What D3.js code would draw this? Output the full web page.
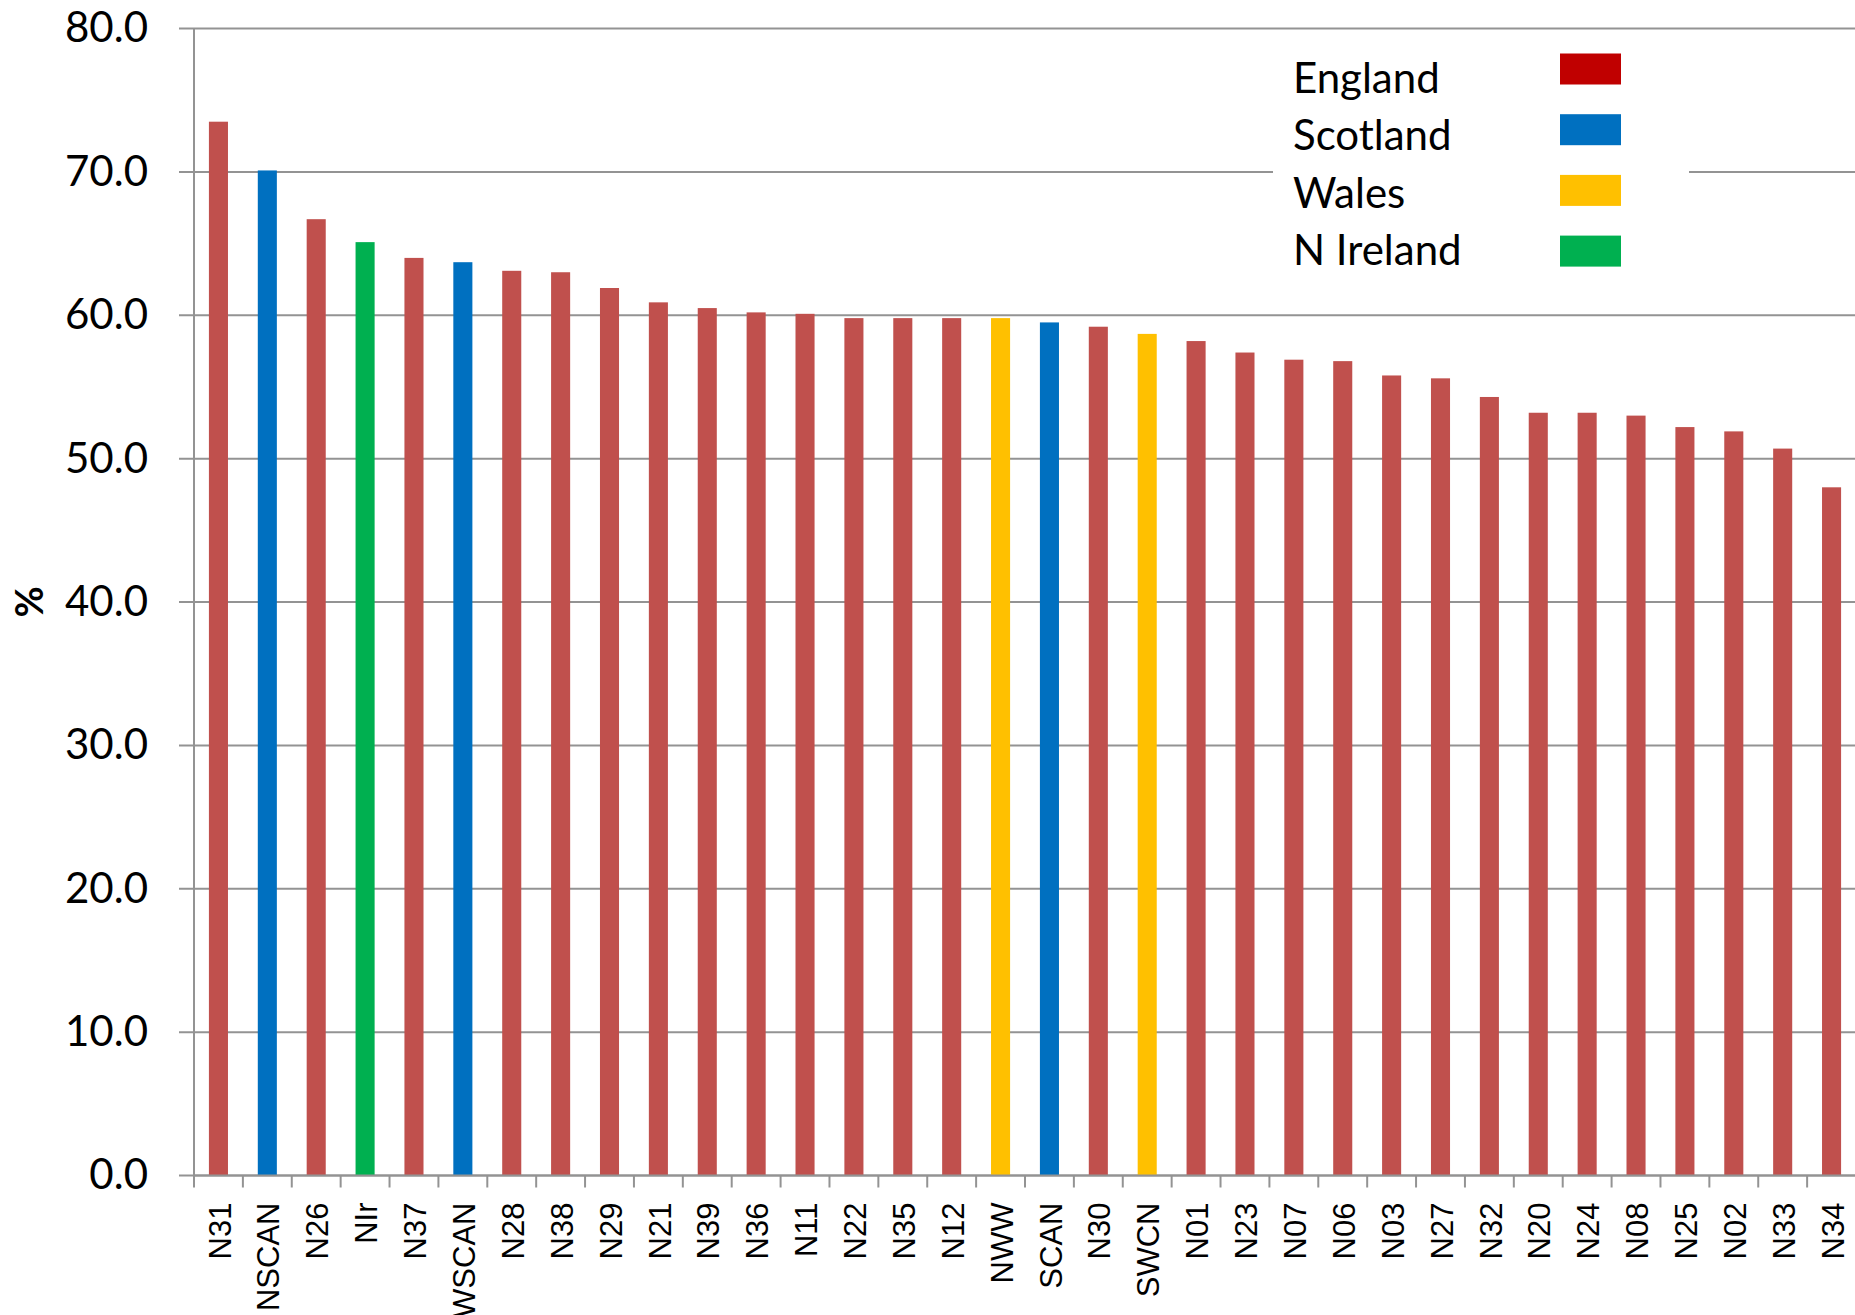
<!DOCTYPE html>
<html>
<head>
<meta charset="utf-8">
<script src="https://cdn.jsdelivr.net/npm/d3@7"></script>
<style>
  body { margin: 0; background: #fff; }
  .grid line, .domain { stroke: #939393; stroke-width: 2; }
</style>
</head>
<body>
<div id="chart"></div>
<script>
// data
const networks = ["N31", "NSCAN", "N26", "NIr", "N37", "WSCAN", "N28", "N38", "N29", "N21",
  "N39", "N36", "N11", "N22", "N35", "N12", "NWW", "SCAN", "N30", "SWCN",
  "N01", "N23", "N07", "N06", "N03", "N27", "N32", "N20", "N24", "N08",
  "N25", "N02", "N33", "N34"];
const values = [73.5, 70.1, 66.7, 65.1, 64.0, 63.7, 63.1, 63.0, 61.9, 60.9,
  60.5, 60.2, 60.1, 59.8, 59.8, 59.8, 59.8, 59.5, 59.2, 58.7,
  58.2, 57.4, 56.9, 56.8, 55.8, 55.6, 54.3, 53.2, 53.2, 53.0,
  52.2, 51.9, 50.7, 48.0];
const nations = ["E", "S", "E", "N", "E", "S", "E", "E", "E", "E",
  "E", "E", "E", "E", "E", "E", "W", "S", "E", "W",
  "E", "E", "E", "E", "E", "E", "E", "E", "E", "E",
  "E", "E", "E", "E"];
const yTicks = [0, 10, 20, 30, 40, 50, 60, 70, 80];
const legendNames = ["England", "Scotland", "Wales", "N Ireland"];

const barColors = { E: "#C0504D", S: "#0070C0", W: "#FFC000", N: "#00B050" };
const legendColors = ["#C00000", "#0070C0", "#FFC000", "#00B050"];

const W = 1855, H = 1315;
const plotLeft = 194, plotRight = 1856, plotTop = 28.5, plotBottom = 1175.5;

const svg = d3.select("#chart")
  .append("svg")
  .attr("width", W)
  .attr("height", H)
  .style("font-family", "Lato, 'Open Sans', sans-serif");

const data = networks.map((n, i) => ({ name: n, value: values[i], nation: nations[i] }));

const x = d3.scaleBand()
  .domain(networks)
  .range([plotLeft, plotRight])
  .padding(0);

const y = d3.scaleLinear()
  .domain([0, 80])
  .range([plotBottom, plotTop]);

/**
 * horizontal grid lines + y axis
 */
svg.append("g")
  .attr("class", "grid")
  .selectAll("line")
  .data(yTicks)
  .enter()
  .append("line")
  .attr("x1", plotLeft - 15)
  .attr("x2", W)
  .attr("y1", d => y(d))
  .attr("y2", d => y(d));

const yAxis = svg.append("g")
  .attr("transform", `translate(${plotLeft},0)`)
  .call(d3.axisLeft(y).tickValues(yTicks).tickFormat(d3.format(".1f")).tickSize(0).tickPadding(46));
yAxis.select(".domain").attr("d", `M0,${plotTop}V${plotBottom}`);
yAxis.selectAll(".tick text")
  .style("font-family", "Lato, 'Open Sans', sans-serif")
  .style("font-size", "42px")
  .attr("fill", "#000");

// % label
svg.append("text")
  .attr("transform", `translate(30,${(plotTop + plotBottom) / 2}) rotate(-90)`)
  .attr("text-anchor", "middle")
  .attr("dy", "0.35em")
  .style("font-size", "38px")
  .style("font-weight", "bold")
  .text("%");

/**
 * bars
 */
const barW = x.bandwidth() * 0.39;
svg.selectAll(".bar")
  .data(data)
  .enter()
  .append("rect")
  .attr("class", "bar")
  .attr("x", d => x(d.name) + (x.bandwidth() - barW) / 2)
  .attr("y", d => y(d.value))
  .attr("width", barW)
  .attr("height", d => y(0) - y(d.value))
  .attr("fill", d => barColors[d.nation]);

/**
 * x axis: baseline, ticks between categories, rotated labels
 */
const xAxis = svg.append("g").attr("class", "grid");
xAxis.append("line")
  .attr("x1", plotLeft)
  .attr("x2", W)
  .attr("y1", plotBottom)
  .attr("y2", plotBottom);
xAxis.selectAll(".xtick")
  .data(networks.concat(["end"]))
  .enter()
  .append("line")
  .attr("x1", d => (d === "end" ? plotRight : x(d)))
  .attr("x2", d => (d === "end" ? plotRight : x(d)))
  .attr("y1", plotBottom)
  .attr("y2", plotBottom + 12);

svg.selectAll(".xlabel")
  .data(networks)
  .enter()
  .append("text")
  .attr("transform", d => `translate(${x(d) + x.bandwidth() / 2 + 1},${plotBottom + 27}) rotate(-90)`)
  .attr("text-anchor", "end")
  .attr("dy", "0.36em")
  .style("font-family", "'Liberation Sans', Arial, sans-serif")
  .style("font-size", "31px")
  .text(d => d);

/**
 * legend box (covers grid lines)
 */
const legend = svg.append("g");
legend.append("rect")
  .attr("x", 1273)
  .attr("y", 36)
  .attr("width", 416)
  .attr("height", 252)
  .attr("fill", "#fff");

legend.selectAll("text")
  .data(legendNames)
  .enter()
  .append("text")
  .attr("x", 1293)
  .attr("y", (d, i) => 93 + i * 57.3)
  .style("font-size", "42px")
  .text(d => d);

legend.selectAll(".swatch")
  .data(legendColors)
  .enter()
  .append("rect")
  .attr("x", 1560)
  .attr("y", (d, i) => 53.5 + i * 60.7)
  .attr("width", 61)
  .attr("height", 31)
  .attr("fill", d => d);
</script>
</body>
</html>
